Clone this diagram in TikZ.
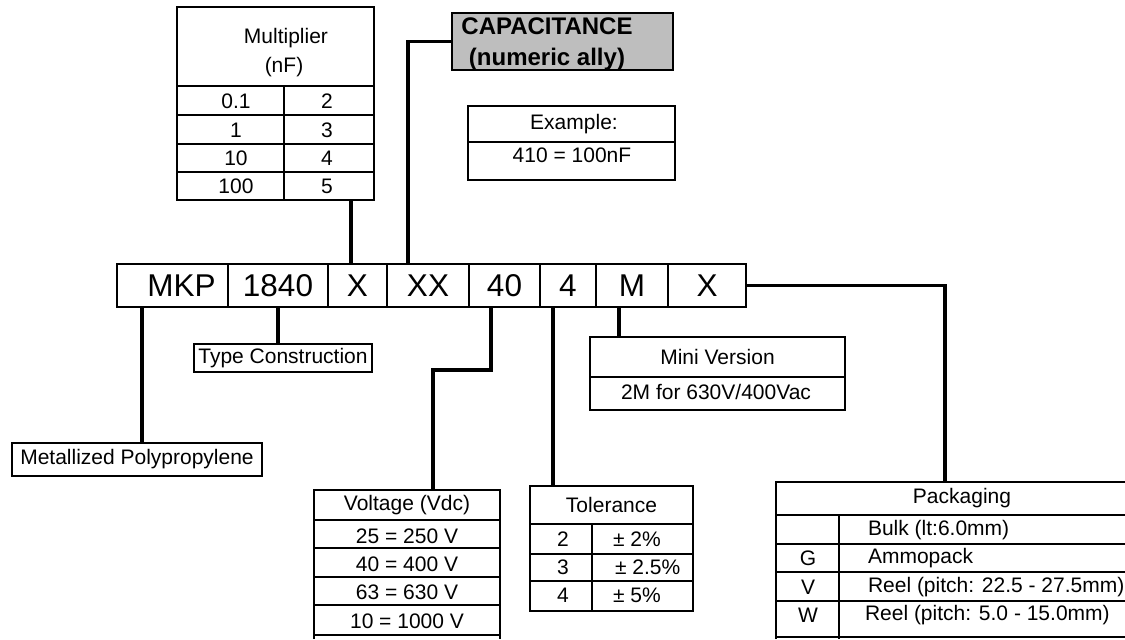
\documentclass[tikz,border=0pt]{standalone}
\usepackage{fontspec}
\setmainfont{Liberation Sans}
\usetikzlibrary{positioning}
\definecolor{capgray}{RGB}{190,190,190}
\tikzset{
  txt/.style={inner sep=0pt, outer sep=0pt, font=\fontsize{10.5}{12}\selectfont},
  frame/.style={draw, line width=0.65pt, inner sep=0pt, outer sep=0pt},
  cell/.style={frame, minimum height=21.5pt, font=\fontsize{15.75}{18}\selectfont},
  rule/.style={line width=0.65pt},
  wire/.style={line width=1.6pt}
}
\begin{document}
\begin{tikzpicture}[x=0.5pt,y=-0.5pt]
  \useasboundingbox (0,0) rectangle (1125,639);

  \node[frame, minimum width=98.5pt, minimum height=96.5pt, anchor=north west] (mult) at (177,7) {};
  \draw[rule] (177,86) -- (374,86) (177,115) -- (374,115) (177,144) -- (374,144) (177,172) -- (374,172) (284,86) -- (284,200);
  \node[txt] (multA) at (286,38) {Multiplier};
  \node[txt] (multB) at (284,67) {(nF)};
  \foreach \a/\b/\y [count=\i] in {0.1/2/101,1/3/130,10/4/158,100/5/186} {
    \node[txt] (ma\i) at (236,\y) {\a};
    \node[txt] (mb\i) at (327,\y) {\b};
  }

  \node[frame, fill=capgray, minimum width=110.5pt, minimum height=28.5pt] (cap) at (562.5,41.5) {};
  \node[txt, align=center, font=\fontsize{12}{15.5}\selectfont\bfseries] (capT) at (547,44) {CAPACITANCE\\(numeric ally)};

  \node[frame, minimum width=103.5pt, minimum height=37pt, anchor=north west] (ex) at (468,106) {};
  \draw[rule] (468,142) -- (675,142);
  \node[txt] (exA) at (574,124) {Example:};
  \node[txt] (exB) at (572,155) {410 = 100nF};

  \node[cell, minimum width=55.5pt, anchor=north west] (mkp) at (117,264) {\hspace*{9pt}MKP};
  \node[cell, minimum width=50pt, right=0pt of mkp] (num) {1840};
  \node[cell, minimum width=29.5pt, right=0pt of num] (xa) {X};
  \node[cell, minimum width=41pt, right=0pt of xa] (xx) {XX};
  \node[cell, minimum width=35.5pt, right=0pt of xx] (v40) {40};
  \node[cell, minimum width=28pt, right=0pt of v40] (t4) {4};
  \node[cell, minimum width=36pt, right=0pt of t4] (mv) {M};
  \node[cell, minimum width=39pt, right=0pt of mv] (xp) {X};

  \draw[wire] ([xshift=-3.25pt]xa.north) -- ([xshift=-3.25pt]xa.north |- mult.south);
  \draw[wire] ([xshift=-10pt]xx.north) |- (cap.west);

  \node[frame, txt, minimum width=125pt, minimum height=16.5pt] (met) at (137,459.5) {Metallized Polypropylene};
  \node[frame, txt, minimum width=89pt, minimum height=14pt] (tc) at (283,358) {Type Construction};
  \draw[wire] ([xshift=-15.25pt]mkp.south) -- ([xshift=-15.25pt]mkp.south |- met.north);
  \draw[wire] (num.south) -- (num.south |- tc.north);

  \node[frame, txt, minimum width=93pt, minimum height=15pt, anchor=north west] (volt) at (314,490) {Voltage (Vdc)};
  \draw[rule] (volt.south west) -- (314,639) (volt.south east) -- (500,639)
    (314,548) -- (500,548) (314,577) -- (500,577) (314,605) -- (500,605) (314,635) -- (500,635);
  \node[txt] (volt1) at (407,536) {25 = 250 V};
  \node[txt] (volt2) at (407,564) {40 = 400 V};
  \node[txt] (volt3) at (407,592) {63 = 630 V};
  \node[txt] (volt4) at (407,621) {10 = 1000 V};
  \draw[wire] ([xshift=-6.75pt]v40.south) -- ++(0,63) -| ([xshift=13pt]volt.north);

  \node[frame, txt, minimum width=81.5pt, minimum height=19pt, anchor=north west] (tol) at (530,486) {Tolerance};
  \draw[rule] (tol.south west) rectangle (693,611) (530,554) -- (693,554) (530,581) -- (693,581) (592,524) -- (592,611);
  \node[txt] (tolA1) at (563,539) {2};
  \node[txt] (tolA2) at (563,567.5) {3};
  \node[txt] (tolA3) at (563,595) {4};
  \node[txt, anchor=west] (tolB1) at (613,539) {± 2\%};
  \node[txt, anchor=west] (tolB2) at (615,567.5) {± 2.5\%};
  \node[txt, anchor=west] (tolB3) at (613,595) {± 5\%};
  \draw[wire] ([xshift=-7.5pt]t4.south) -- ([xshift=-7.5pt]t4.south |- tol.north);

  \node[frame, txt, minimum width=127.5pt, minimum height=20pt, anchor=north west] (mini) at (590,337) {Mini Version};
  \draw[rule] (mini.south west) rectangle (845,410);
  \node[txt] (miniB) at (716,392) {2M for 630V/400Vac};
  \draw[wire] ([xshift=-6.5pt]mv.south) -- ([xshift=-6.5pt]mv.south |- mini.north);

  \draw[rule] (776,639) -- (776,482) -- (1125,482) (776,515) -- (1125,515) (839,515) -- (839,639)
    (776,544) -- (1125,544) (776,572) -- (1125,572) (776,601) -- (1125,601) (776,637) -- (1125,637);
  \node[txt, minimum height=16.5pt] (pack) at (962,498.5) {Packaging};
  \node[txt, anchor=west] (packB1) at (868,530) {Bulk (lt:6.0mm)};
  \node[txt] (packA2) at (808,558) {G};
  \node[txt, anchor=west] (packB2) at (868,558) {Ammopack};
  \node[txt] (packA3) at (808,587) {V};
  \node[txt, anchor=west] (packB3) at (868,587) {Reel (pitch: 22.5 - 27.5mm)};
  \node[txt] (packA4) at (808,615) {W};
  \node[txt, anchor=west] (packB4) at (865,615) {Reel (pitch: 5.0 - 15.0mm)};
  \draw[wire] (xp.east) -| ([xshift=-8.5pt]pack.north);
\end{tikzpicture}
\end{document}
